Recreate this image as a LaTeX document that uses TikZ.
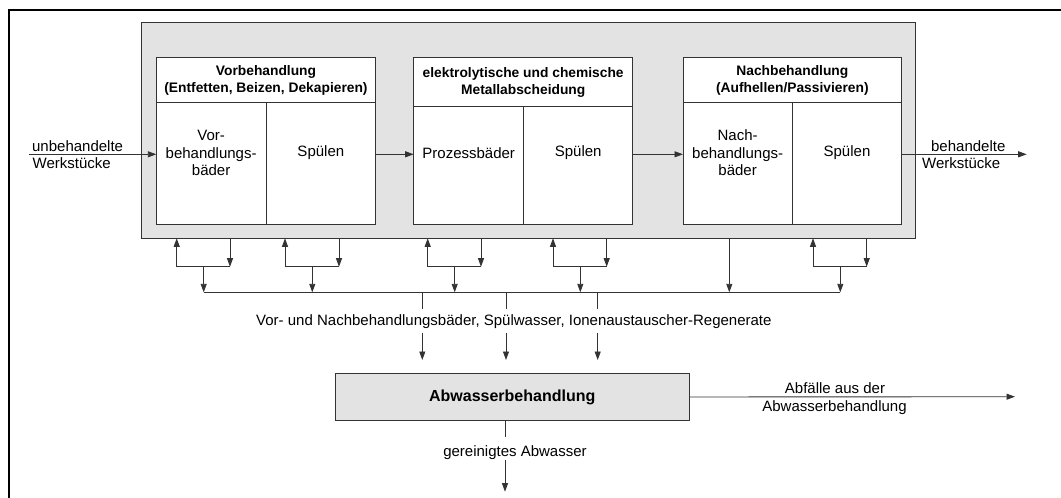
\documentclass[tikz,border=0pt]{standalone}
\usepackage{fontspec}
\setmainfont{Liberation Sans}
\usetikzlibrary{arrows.meta}

\definecolor{panel}{HTML}{E3E3E3}
\definecolor{ink}{HTML}{333333}

\begin{document}
\begin{tikzpicture}[x=1pt,y=-1pt,line width=0.9pt,draw=ink,
  arr/.style={-{Triangle[length=8.5pt,width=6pt]}},
  txt/.style={font=\fontsize{15}{17.6}\selectfont,inner sep=0pt,text=black},
  headtxt/.style={font=\bfseries\fontsize{13.8}{17}\selectfont,text=black,align=center},
  cell/.style={draw=ink,fill=white,inner sep=0pt,outer sep=0pt,anchor=north west},
  panelbox/.style={draw=ink,fill=panel,inner sep=0pt,outer sep=0pt}]
\useasboundingbox (0,0) rectangle (1061,498);

% frame
\draw[line width=2pt,draw=black] (9,498) -- (9,10) -- (1061,10);

% galvanic line
\node[panelbox,anchor=north west,minimum width=774pt,minimum height=215.6pt] (plant) at (141.7,22.7) {};

% stage 1
\node[cell,headtxt,minimum width=219.4pt,minimum height=45pt] (h1) at (156.3,57.7)
  {Vorbehandlung\\(Entfetten, Beizen, Dekapieren)};
\node[cell,minimum width=109.7pt,minimum height=121.3pt] (c1a) at (156.3,102.7) {};
\node[cell,minimum width=109.7pt,minimum height=121.3pt] (c1b) at (266,102.7) {};
% stage 2
\node[cell,headtxt,minimum width=219pt,minimum height=49pt] (h2) at (413.7,57.7)
  {elektrolytische und chemische\\Metallabscheidung};
\node[cell,minimum width=110pt,minimum height=117.3pt] (c2a) at (413.7,106.7) {};
\node[cell,minimum width=109pt,minimum height=117.3pt] (c2b) at (523.7,106.7) {};
% stage 3
\node[cell,headtxt,minimum width=218.7pt,minimum height=45pt] (h3) at (683,57.7)
  {Nachbehandlung\\(Aufhellen/Passivieren)};
\node[cell,minimum width=109.3pt,minimum height=121.3pt] (c3a) at (683,102.7) {};
\node[cell,minimum width=109.4pt,minimum height=121.3pt] (c3b) at (792.3,102.7) {};

% cell texts
\coordinate (textrow) at (0,153);
\coordinate (flow) at (0,154.3);
\node[txt,align=center] (t1a) at (c1a |- textrow) {Vor-\\behandlungs-\\bäder};
\node[txt] (t1b) at (c1b |- textrow) {Spülen};
\node[txt] (t2a) at (c2a |- textrow) {Prozessbäder};
\node[txt] (t2b) at (c2b |- textrow) {Spülen};
\node[txt,align=center] (t3a) at (c3a |- textrow) {Nach-\\behandlungs-\\bäder};
\node[txt] (t3b) at (c3b |- textrow) {Spülen};

% workpiece flow
\coordinate (in0) at (29.3,154.3);
\coordinate (out0) at (1026.7,154.3);
\draw[arr] (in0) -- (in0 -| c1a.west);
\draw[arr] (c1b.east |- flow) -- (c2a.west |- flow);
\draw[arr] (c2b.east |- flow) -- (c3a.west |- flow);
\draw[arr] (c3b.east |- flow) -- (out0);
\node[txt,anchor=base west] (inl1) at (31.7,151.7) {unbehandelte};
\node[txt,anchor=base west] (inl2) at (32.2,168.3) {Werkstücke};
\node[txt,anchor=base west] (outl1) at (930.7,151.7) {behandelte};
\node[txt,anchor=base west] (outl2) at (921.7,168.3) {Werkstücke};

% recirculation loops below the line
\coordinate (busL) at (203.7,292.3);
\coordinate (busR) at (840.3,292.3);
\foreach \u/\d/\c [count=\i] in {176.7/230/203.7, 285/339/312.3, 427.7/481/454.7, 553/606.7/580.3, 813/866.7/840.3}{
  \coordinate (lu\i) at (\u,266.7);
  \coordinate (ld\i) at (\d,266.7);
  \coordinate (lc\i) at (\c,266.7);
  \draw[arr] (lu\i) -- (lu\i |- plant.south);
  \draw[arr] (ld\i |- plant.south) -- (ld\i);
  \draw (lu\i) -- (ld\i);
  \draw[arr] (lc\i) -- (lc\i |- busL);
}
\coordinate (single) at (729.3,292.3);
\draw[arr] (single |- plant.south) -- (single);
\draw (busL) -- (busR);

% collected streams
\node[txt,anchor=base] (streams) at (513.9,325)
  {Vor- und Nachbehandlungsbäder, Spülwasser, Ionenaustauscher-Regenerate};
\foreach \x [count=\i] in {422.3,506,597.7}{
  \coordinate (da\i) at (\x,309.3);
  \coordinate (db\i) at (\x,333.3);
  \coordinate (dc\i) at (\x,360);
  \draw (da\i |- busL) -- (da\i);
  \draw[arr] (db\i) -- (dc\i);
}

% waste water treatment
\node[panelbox,minimum width=354.3pt,minimum height=47.4pt,
  font=\bfseries\fontsize{16}{19}\selectfont,text=black] (abw) at (512.2,397) {Abwasserbehandlung};
\coordinate (waste) at (1015,396.7);
\draw[arr] (abw.east) -- (waste);
\node[txt,anchor=base] (wl1) at (835,393.3) {Abfälle aus der};
\node[txt,anchor=base] (wl2) at (834.5,411) {Abwasserbehandlung};

\coordinate (g0) at (505,436.7);
\coordinate (g1) at (505,460);
\coordinate (g2) at (505,491.7);
\draw (abw.south -| g0) -- (g0);
\draw[arr] (g1) -- (g2);
\node[txt,anchor=base] (clean) at (515,456) {gereinigtes Abwasser};
\end{tikzpicture}
\end{document}
